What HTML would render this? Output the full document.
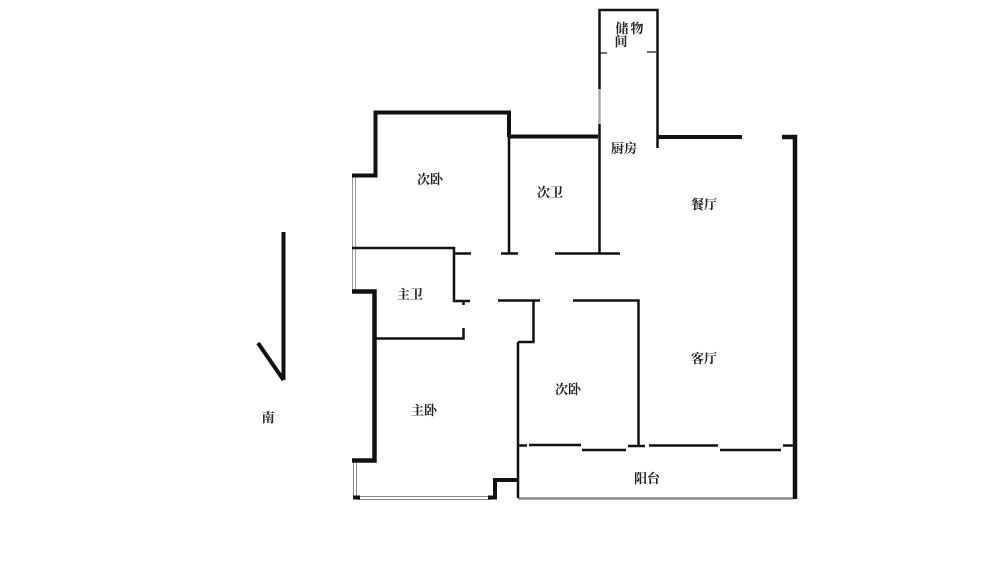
<!DOCTYPE html>
<html><head><meta charset="utf-8">
<style>html,body{margin:0;padding:0;background:#fff}svg{display:block}
text{font-family:"Liberation Serif","Noto Serif CJK SC",serif;font-size:13px;font-weight:700;fill:#222;text-anchor:middle}</style>
</head><body>
<svg width="1000" height="573" viewBox="0 0 1000 573" xmlns="http://www.w3.org/2000/svg">
<rect width="1000" height="573" fill="#fff"/>
<g fill="none" stroke="#8a8a8a" stroke-width="1">
<rect x="352.500" y="175" width="3" height="117" stroke="#999"/>
<rect x="353.500" y="460" width="3" height="38"/>
<rect x="358" y="496.500" width="132" height="3"/>
<path d="M518 498.500H793" stroke-width="2.500"/>
<path d="M599.500 89V124" stroke-width="2.500" stroke="#aaa"/>
</g>
<g fill="none" stroke="#111" stroke-width="4">
<path d="M352 175.500H375.500V112.500H509V137"/>
<path d="M509 136.500H598"/>
<path d="M658 137H742"/>
<path d="M782 137H795V499" stroke-width="4.500"/>
<path d="M352 291.500H374.500V460.500H352" stroke-width="4.500"/>
<path d="M488 497.500H495V480H518"/>
<path d="M353 497.500H360"/>
<path d="M283.500 232V380"/>
<path d="M258 343L283.500 380"/>
</g>
<g fill="none" stroke="#111" stroke-width="2.500">
<path d="M599.500 89V10H657.500V148"/>
<path d="M599.500 124V253"/>
<path d="M509 137V253"/>
<path d="M352 248H454V301H470"/>
<path d="M454 253.500H471"/>
<path d="M501 253.500H518"/>
<path d="M555 253.500H620"/>
<path d="M463.500 301V305"/>
<path d="M375 338.500H463.500V328"/>
<path d="M498 300.500H540"/>
<path d="M533.500 300.500V342H518"/>
<path d="M518 342V498"/>
<path d="M573 300.500H638.500V446"/>
<path d="M518 445.500H527"/>
<path d="M529 445H581"/>
<path d="M582 450H626"/>
<path d="M628 446H645"/>
<path d="M649 445.500H718"/>
<path d="M720 450H781"/>
<path d="M783 445.500H793"/>
</g>
<g fill="none" stroke="#111" stroke-width="1.200">
<path d="M600 53H607"/><path d="M647 52H656"/>
</g>
<text x="430" y="184">次卧</text>
<text x="550" y="197">次卫</text>
<text x="624" y="153">厨房</text>
<text x="704" y="209">餐厅</text>
<text x="410" y="299">主卫</text>
<text x="568" y="394">次卧</text>
<text x="704" y="363">客厅</text>
<text x="424" y="415">主卧</text>
<text x="647" y="483">阳台</text>
<text x="268" y="422">南</text>
<text x="622" y="33">储</text>
<text x="637" y="33">物</text>
<text x="621" y="46">间</text>
</svg>
</body></html>
